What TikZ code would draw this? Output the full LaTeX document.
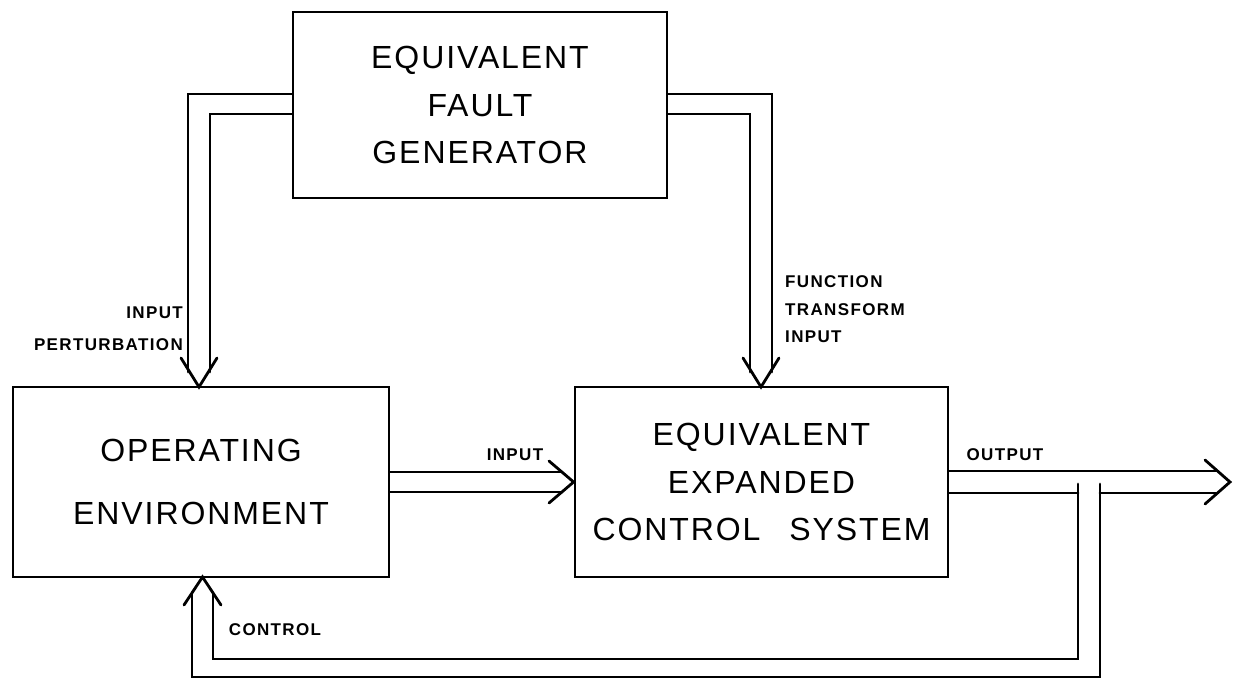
\documentclass[tikz,border=0pt]{standalone}
\usepackage{fontspec}
\setmainfont{Liberation Sans}
\newfontfamily\bigfont[LetterSpace=6]{Liberation Sans}
\newfontfamily\labfont[LetterSpace=8]{Liberation Sans}
\begin{document}
\begin{tikzpicture}[x=1pt,y=-1pt,
  ln/.style={line width=2.8pt,line cap=round,line join=miter},
  blockbox/.style={draw,line width=2.8pt,inner sep=0pt,align=center,
    font=\bigfont\fontsize{32}{47.5}\selectfont},
  lab/.style={inner sep=0pt,font=\labfont\bfseries\fontsize{17}{28}\selectfont}]
\useasboundingbox (0,0) rectangle (1233,679);
% blocks
\node[blockbox,minimum width=374pt,minimum height=186pt] (fault) at (480,105)
  {EQUIVALENT\\FAULT\\GENERATOR};
\node[blockbox,minimum width=376pt,minimum height=190pt,
  font=\bigfont\fontsize{32}{63}\selectfont] (env) at (201,482)
  {OPERATING\\ENVIRONMENT};
\node[blockbox,minimum width=373pt,minimum height=190pt] (sys) at (761.5,482)
  {EQUIVALENT\\EXPANDED\\CONTROL\hspace{0.9em}SYSTEM};
% named points
\coordinate (tipA) at (199,387);
\coordinate (tipB) at (761,387);
\coordinate (tipC) at (sys.west);
\coordinate (tipD) at (1230,482);
\coordinate (tipE) at (202.5,577);
% fault -> env (input perturbation)
\draw[ln] (fault.west |- 0,94) -- (188,94) -- (188,372);
\draw[ln] (fault.west |- 0,114) -- (210,114) -- (210,372);
\draw[ln] (181,358) -- (tipA) -- (217,358);
% fault -> sys (function transform input)
\draw[ln] (fault.east |- 0,94) -- (772,94) -- (772,372);
\draw[ln] (fault.east |- 0,114) -- (750,114) -- (750,372);
\draw[ln] (743,358) -- (tipB) -- (779,358);
% env -> sys (input)
\draw[ln] (env.east |- 0,472) -- (562,472);
\draw[ln] (env.east |- 0,492) -- (562,492);
\draw[ln] (549,461) -- (tipC) -- (549,503);
% output
\draw[ln] (sys.east |- 0,471) -- (1216,471);
\draw[ln] (sys.east |- 0,493) -- (1078,493);
\draw[ln] (1100,493) -- (1216,493);
\draw[ln] (1205,460) -- (tipD) -- (1205,504);
% control feedback
\draw[ln] (1078,484) -- (1078,659) -- (213,659) -- (213,593);
\draw[ln] (1100,484) -- (1100,677) -- (192,677) -- (192,593);
\draw[ln] (184,605) -- (tipE) -- (221,605);
% labels
\node[lab,anchor=east] (lpert1) at (183,313) {INPUT};
\node[lab,anchor=east] (lpert2) at (183,345) {PERTURBATION};
\node[lab,anchor=west] (lfun1) at (785,282) {FUNCTION};
\node[lab,anchor=west] (lfun2) at (785,310) {TRANSFORM};
\node[lab,anchor=west] (lfun3) at (785,337) {INPUT};
\node[lab] (lin) at (515,455) {INPUT};
\node[lab] (lout) at (1005,455) {OUTPUT};
\node[lab] (lctl) at (275,630) {CONTROL};
\end{tikzpicture}
\end{document}
